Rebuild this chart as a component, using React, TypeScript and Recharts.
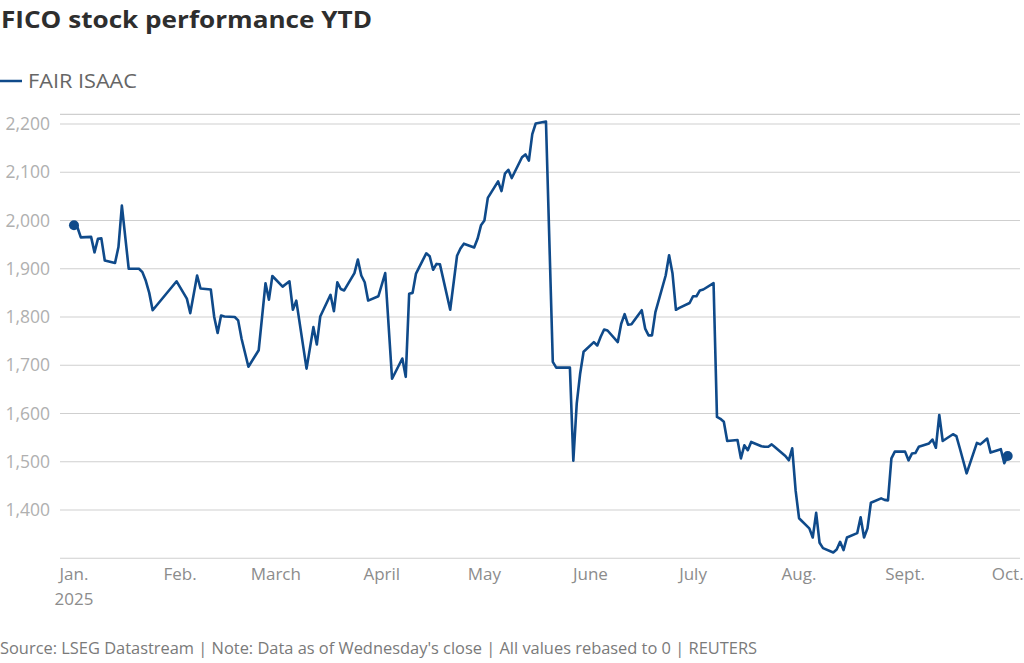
import React from 'react';
import { LineChart, Line, XAxis, YAxis, CartesianGrid } from 'recharts';

const dates: string[] = [
  '2025-01-01','2025-01-02','2025-01-03','2025-01-06','2025-01-07','2025-01-08','2025-01-09','2025-01-10',
  '2025-01-13','2025-01-14','2025-01-15','2025-01-17','2025-01-20','2025-01-21','2025-01-22','2025-01-23',
  '2025-01-24','2025-01-31','2025-02-03','2025-02-04','2025-02-06','2025-02-07','2025-02-10','2025-02-11',
  '2025-02-12','2025-02-13','2025-02-14','2025-02-17','2025-02-18','2025-02-19','2025-02-21','2025-02-24',
  '2025-02-26','2025-02-27','2025-02-28','2025-03-03','2025-03-05','2025-03-06','2025-03-07','2025-03-10',
  '2025-03-12','2025-03-13','2025-03-14','2025-03-17','2025-03-18','2025-03-19','2025-03-20','2025-03-21',
  '2025-03-24','2025-03-25','2025-03-26','2025-03-27','2025-03-28','2025-03-31','2025-04-02','2025-04-04',
  '2025-04-07','2025-04-08','2025-04-09','2025-04-10','2025-04-11','2025-04-14','2025-04-15','2025-04-16',
  '2025-04-17','2025-04-18','2025-04-21','2025-04-23','2025-04-24','2025-04-25','2025-04-28','2025-04-29',
  '2025-04-30','2025-05-01','2025-05-02','2025-05-05','2025-05-06','2025-05-07','2025-05-08','2025-05-09',
  '2025-05-12','2025-05-13','2025-05-14','2025-05-15','2025-05-16','2025-05-19','2025-05-21','2025-05-22',
  '2025-05-23','2025-05-26','2025-05-27','2025-05-28','2025-05-29','2025-05-30','2025-06-02','2025-06-03',
  '2025-06-04','2025-06-05','2025-06-06','2025-06-09','2025-06-10','2025-06-11','2025-06-12','2025-06-13',
  '2025-06-16','2025-06-17','2025-06-18','2025-06-19','2025-06-20','2025-06-23','2025-06-24','2025-06-25',
  '2025-06-26','2025-06-27','2025-06-30','2025-07-01','2025-07-02','2025-07-03','2025-07-04','2025-07-07',
  '2025-07-08','2025-07-09','2025-07-10','2025-07-11','2025-07-14','2025-07-15','2025-07-16','2025-07-17',
  '2025-07-18','2025-07-21','2025-07-22','2025-07-23','2025-07-24','2025-07-25','2025-07-28','2025-07-29',
  '2025-07-30','2025-07-31','2025-08-01','2025-08-04','2025-08-05','2025-08-06','2025-08-07','2025-08-08',
  '2025-08-11','2025-08-12','2025-08-13','2025-08-14','2025-08-15','2025-08-18','2025-08-19','2025-08-20',
  '2025-08-21','2025-08-22','2025-08-25','2025-08-26','2025-08-27','2025-08-28','2025-08-29','2025-09-01',
  '2025-09-02','2025-09-03','2025-09-04','2025-09-05','2025-09-08','2025-09-09','2025-09-10','2025-09-11',
  '2025-09-12','2025-09-15','2025-09-16','2025-09-17','2025-09-19','2025-09-22','2025-09-23','2025-09-24',
  '2025-09-25','2025-09-26','2025-09-29','2025-09-30','2025-10-01',
];

const fairIsaac: number[] = [
  1990,1986,1965,1966,1934,1962,1963,1917,
  1912,1945,2031,1900,1900,1893,1875,1850,
  1814,1874,1838,1808,1886,1859,1857,1800,
  1767,1803,1801,1800,1793,1755,1697,1731,
  1870,1836,1885,1863,1874,1815,1834,1693,
  1779,1743,1801,1846,1812,1872,1858,1855,
  1891,1919,1886,1872,1834,1843,1891,1672,
  1714,1676,1848,1850,1890,1932,1926,1898,
  1910,1909,1815,1927,1942,1952,1944,1962,
  1990,2000,2047,2081,2061,2097,2105,2088,
  2131,2137,2124,2179,2201,2205,1707,1695,
  1695,1695,1502,1621,1683,1728,1748,1741,
  1759,1774,1772,1748,1786,1806,1784,1785,
  1814,1776,1762,1762,1810,1886,1928,1890,
  1815,1819,1829,1843,1843,1855,1857,1870,
  1593,1589,1583,1543,1545,1507,1534,1524,
  1541,1532,1531,1531,1536,1530,1512,1503,
  1528,1440,1383,1362,1343,1394,1332,1321,
  1312,1318,1334,1317,1343,1352,1385,1343,
  1362,1415,1424,1421,1420,1507,1521,1521,
  1503,1517,1518,1531,1538,1546,1529,1597,
  1543,1557,1553,1528,1476,1539,1536,1542,
  1548,1519,1526,1497,1512,
];

const monthTickDates: string[] = [
  '2025-01-01','2025-02-01','2025-03-01','2025-04-01','2025-05-01',
  '2025-06-01','2025-07-01','2025-08-01','2025-09-01','2025-10-01',
];
const monthLabels: string[] = ['Jan.', 'Feb.', 'March', 'April', 'May', 'June', 'July', 'Aug.', 'Sept.', 'Oct.'];
const yearLabel = '2025';
const yTicks: number[] = [1400, 1500, 1600, 1700, 1800, 1900, 2000, 2100, 2200];

const TITLE = 'FICO stock performance YTD';
const SERIES = 'FAIR ISAAC';
const FOOTER = "Source: LSEG Datastream | Note: Data as of Wednesday's close | All values rebased to 0 | REUTERS";

const BLUE = '#0f4a8a';
const FONT = '"Open Sans", "Noto Sans", sans-serif';

const DAY_MS = 86400000;
const START = Date.UTC(2025, 0, 1);
const toDay = (s: string) => (Date.parse(s + 'T00:00:00Z') - START) / DAY_MS;

const data = dates.map((d, i) => ({ day: toDay(d), price: fairIsaac[i] }));
const xTicks = monthTickDates.map(toDay);

const XTick = (props: any) => {
  const { x, y, index } = props;
  return (
    <g>
      <text x={x} y={y + 22} textAnchor="middle" fontFamily={FONT} fontSize={17} fill="#8c8c8c">
        {monthLabels[index]}
      </text>
      {index === 0 ? (
        <text x={x} y={y + 47} textAnchor="middle" fontFamily={FONT} fontSize={17} fill="#8c8c8c">
          {yearLabel}
        </text>
      ) : null}
    </g>
  );
};

const YTick = (props: any) => {
  const { x, y, payload } = props;
  return (
    <text x={x} y={y} dy={6} textAnchor="end" fontFamily={FONT} fontSize={17.5} fill="#b0b0b0">
      {Number(payload.value).toLocaleString('en-US')}
    </text>
  );
};

const EndDot = (props: any) => {
  const { cx, cy, index } = props;
  if (index === 0 || index === data.length - 1) {
    return <circle key={'d' + index} cx={cx} cy={cy} r={5} fill={BLUE} />;
  }
  return <g key={'d' + index} />;
};

export default function App() {
  return (
    <div style={{ position: 'absolute', left: 0, top: 0, width: 1024, height: 663, background: '#fff' }}>
      <svg width={1024} height={110} style={{ position: 'absolute', left: 0, top: 0 }}>
        <text x={1} y={28} fontFamily={FONT} fontWeight={700} fontSize={22.5} fill="#2e2e2e"
          textLength={371} lengthAdjust="spacingAndGlyphs">{TITLE}</text>
        <line x1={0} x2={22} y1={81} y2={81} stroke={BLUE} strokeWidth={2.5} />
        <text x={28} y={88} fontFamily={FONT} fontSize={20} fill="#666"
          textLength={109} lengthAdjust="spacingAndGlyphs">{SERIES}</text>
      </svg>
      <div style={{ position: 'absolute', left: 0, top: 0 }}>
        <LineChart width={1024} height={663} data={data}
          margin={{ top: 114.35, right: 4, left: 0, bottom: 74.75 }}>
          <CartesianGrid vertical={false} stroke="#cfcfcf" strokeWidth={1.2} />
          <XAxis dataKey="day" type="number" domain={[-4.09, 276.6]} ticks={xTicks} interval={0}
            axisLine={false} tickLine={false} tickSize={0} tickMargin={0} height={30} tick={<XTick />} />
          <YAxis type="number" domain={[1300, 2220]} ticks={yTicks} interval={0} width={60}
            axisLine={false} tickLine={false} tickSize={0} tickMargin={10} tick={<YTick />} />
          <Line type="linear" dataKey="price" stroke={BLUE} strokeWidth={2.6} dot={EndDot}
            activeDot={false} isAnimationActive={false} strokeLinejoin="round" />
        </LineChart>
      </div>
      <svg width={1024} height={30} style={{ position: 'absolute', left: 0, top: 633 }}>
        <text x={0} y={21} fontFamily={FONT} fontSize={16} fill="#7a7a7a"
          textLength={757} lengthAdjust="spacingAndGlyphs">{FOOTER}</text>
      </svg>
    </div>
  );
}
